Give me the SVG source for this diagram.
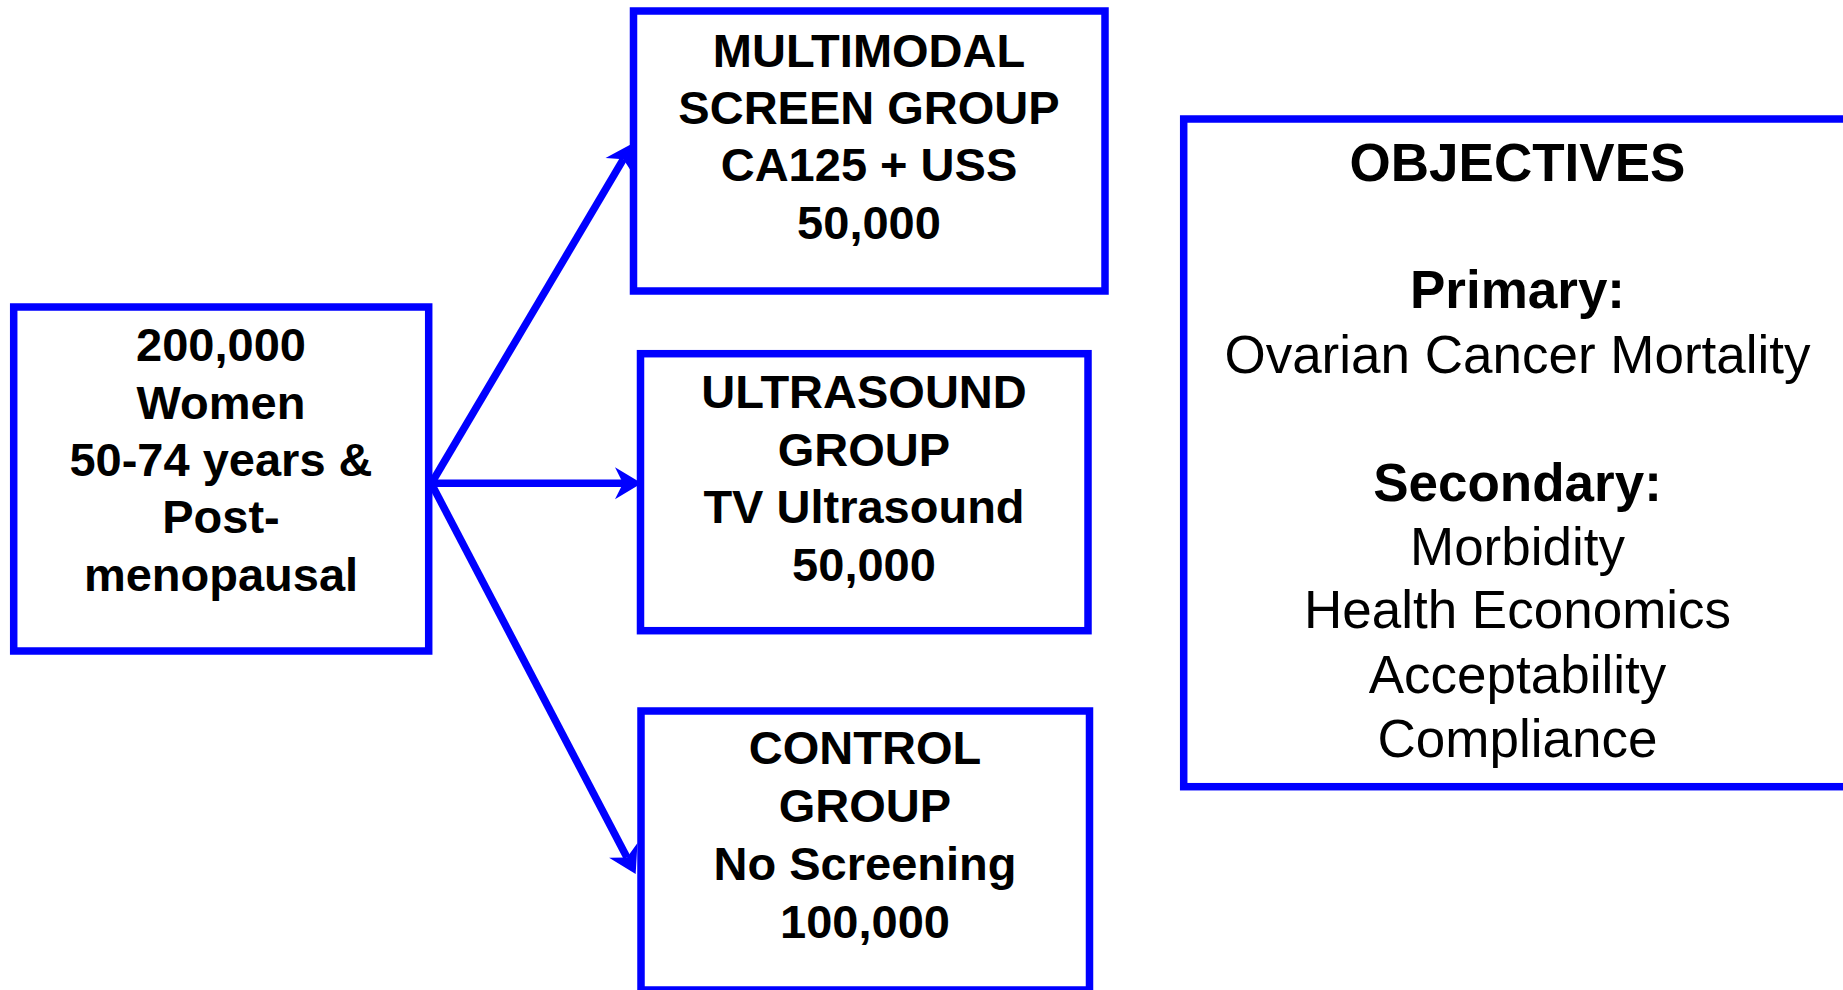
<svg xmlns="http://www.w3.org/2000/svg" width="1843" height="990" viewBox="0 0 1843 990">
  <style>
    .box { fill: #ffffff; stroke: #0000ff; stroke-width: 7.5; }
    .conn { stroke: #0000ff; stroke-width: 7.5; fill: none; }
    .b { font-family: "Liberation Sans", Arial, sans-serif; font-weight: bold; font-size: 47px; fill: #000; text-anchor: middle; }
    .ob { font-family: "Liberation Sans", Arial, sans-serif; font-weight: bold; font-size: 53px; fill: #000; text-anchor: middle; }
    .or { font-family: "Liberation Sans", Arial, sans-serif; font-size: 53px; fill: #000; text-anchor: middle; }
  </style>
  <defs>
    <marker id="arrow" markerUnits="userSpaceOnUse" markerWidth="40" markerHeight="40" viewBox="-10 -15 30 30" refX="0" refY="0" orient="auto" overflow="visible">
      <path d="M14,0 L-6,-12 L0,0 L-6,12 Z" fill="#0000ff"/>
    </marker>
  </defs>
  <rect width="1843" height="990" fill="#ffffff"/>

  <g id="connectors">
    <line class="conn" x1="431" y1="483.3" x2="623" y2="483.3" marker-end="url(#arrow)"/>
    <line class="conn" x1="431" y1="484" x2="623.4" y2="159.2" marker-end="url(#arrow)"/>
    <line class="conn" x1="431" y1="483" x2="627" y2="857.5" marker-end="url(#arrow)"/>
  </g>

  <g id="women">
    <rect class="box" x="13.7" y="307" width="415" height="344"/>
    <text class="b" x="221" y="361">200,000</text>
    <text class="b" x="221" y="419">Women</text>
    <text class="b" x="221" y="476">50-74 years &amp;</text>
    <text class="b" x="221" y="533">Post-</text>
    <text class="b" x="221" y="591">menopausal</text>
  </g>

  <g id="multimodal">
    <rect class="box" x="633.5" y="11" width="471.5" height="280"/>
    <text class="b" x="869" y="67">MULTIMODAL</text>
    <text class="b" x="869" y="124">SCREEN GROUP</text>
    <text class="b" x="869" y="181">CA125 + USS</text>
    <text class="b" x="869" y="239">50,000</text>
  </g>

  <g id="ultrasound">
    <rect class="box" x="640.5" y="353.7" width="447.5" height="277"/>
    <text class="b" x="864" y="408">ULTRASOUND</text>
    <text class="b" x="864" y="466">GROUP</text>
    <text class="b" x="864" y="523">TV Ultrasound</text>
    <text class="b" x="864" y="581">50,000</text>
  </g>

  <g id="control">
    <rect class="box" x="641" y="711" width="448.5" height="279"/>
    <text class="b" x="865" y="764">CONTROL</text>
    <text class="b" x="865" y="822">GROUP</text>
    <text class="b" x="865" y="880">No Screening</text>
    <text class="b" x="865" y="938">100,000</text>
  </g>

  <g id="objectives">
    <rect class="box" x="1183.7" y="119" width="680" height="667.7"/>
    <text class="ob" x="1517.5" y="181">OBJECTIVES</text>
    <text class="ob" x="1517.5" y="308">Primary:</text>
    <text class="or" x="1517.5" y="373">Ovarian Cancer Mortality</text>
    <text class="ob" x="1517.5" y="501">Secondary:</text>
    <text class="or" x="1517.5" y="565">Morbidity</text>
    <text class="or" x="1517.5" y="628">Health Economics</text>
    <text class="or" x="1517.5" y="693">Acceptability</text>
    <text class="or" x="1517.5" y="757">Compliance</text>
  </g>
</svg>
